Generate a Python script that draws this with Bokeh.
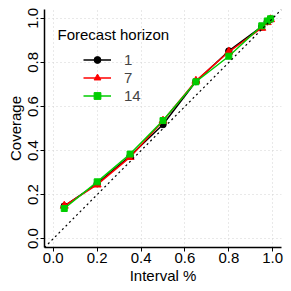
from bokeh.plotting import figure
from bokeh.models import FixedTicker, Legend, LegendItem, Label, Slope, Range1d
from bokeh.embed import file_html
from bokeh.resources import INLINE

interval = [0.05, 0.2, 0.35, 0.5, 0.65, 0.8, 0.95, 0.975, 0.99]
cov_h1 = [0.148, 0.250, 0.375, 0.518, 0.713, 0.852, 0.962, 0.985, 0.996]
cov_h7 = [0.149, 0.245, 0.370, 0.535, 0.716, 0.848, 0.956, 0.982, 0.995]
cov_h14 = [0.137, 0.258, 0.384, 0.536, 0.712, 0.828, 0.966, 0.988, 0.998]
horizons = ["1", "7", "14"]
ticks = [0.0, 0.2, 0.4, 0.6, 0.8, 1.0]
tick_labels = {t: f"{t:.1f}" for t in ticks}

FONT = "Liberation Sans"
FS = "15px"

p = figure(width=284, height=289, output_backend="svg", toolbar_location=None,
           x_range=Range1d(-0.04, 1.04), y_range=Range1d(-0.04, 1.04),
           min_border_left=44, min_border_right=3, min_border_top=9, min_border_bottom=42,
           x_axis_label="Interval %", y_axis_label="Coverage")
p.outline_line_color = None
p.background_fill_color = "white"
p.border_fill_color = "white"

for ax in (p.xaxis[0], p.yaxis[0]):
    ax.ticker = FixedTicker(ticks=ticks)
    ax.major_label_overrides = tick_labels
    ax.major_label_text_font = FONT
    ax.major_label_text_font_size = FS
    ax.major_label_text_color = "black"
    ax.axis_label_text_font = FONT
    ax.axis_label_text_font_size = FS
    ax.axis_label_text_font_style = "normal"
    ax.axis_label_text_color = "black"
    ax.axis_line_width = 1.5
    ax.axis_line_color = "black"
    ax.major_tick_line_color = "black"
    ax.major_tick_in = 0
    ax.major_tick_out = 4
    ax.minor_tick_line_color = None
p.xaxis.major_label_standoff = 1
p.xaxis.axis_label_standoff = 1
p.yaxis.major_label_standoff = 2
p.yaxis.axis_label_standoff = 2
p.yaxis.major_label_orientation = "vertical"

for g in (p.xgrid[0], p.ygrid[0]):
    g.ticker = FixedTicker(ticks=ticks)
    g.grid_line_color = "#d3d3d3"
    g.grid_line_dash = "1 3"
    g.grid_line_width = 1

p.add_layout(Slope(gradient=1, y_intercept=0, line_color="black", line_dash="2 3", line_width=1.2))

series = [(cov_h1, "black", "circle", 6.5), (cov_h7, "red", "triangle", 8), (cov_h14, "#00cd00", "square", 6)]
items = []
for (vals, col, mk, sz), name in zip(series, horizons):
    r1 = p.line(interval, vals, line_color=col, line_width=1.5)
    r2 = p.scatter(interval, vals, marker=mk, size=sz, fill_color=col, line_color=col)
    items.append(LegendItem(label=name, renderers=[r1, r2]))

legend = Legend(items=items, location=(39, 143), orientation="vertical",
                border_line_color=None, background_fill_alpha=0,
                padding=0, margin=0, spacing=1, glyph_width=28, glyph_height=17,
                label_height=17, label_standoff=13,
                label_text_font=FONT, label_text_font_size=FS)
p.add_layout(legend, "center")

title = Label(x=13, y=213, x_units="screen", y_units="screen", text="Forecast horizon",
              text_font=FONT, text_font_size=FS, text_color="black", text_baseline="middle")
p.add_layout(title)

open("out.html", "w").write(file_html(p, INLINE))
